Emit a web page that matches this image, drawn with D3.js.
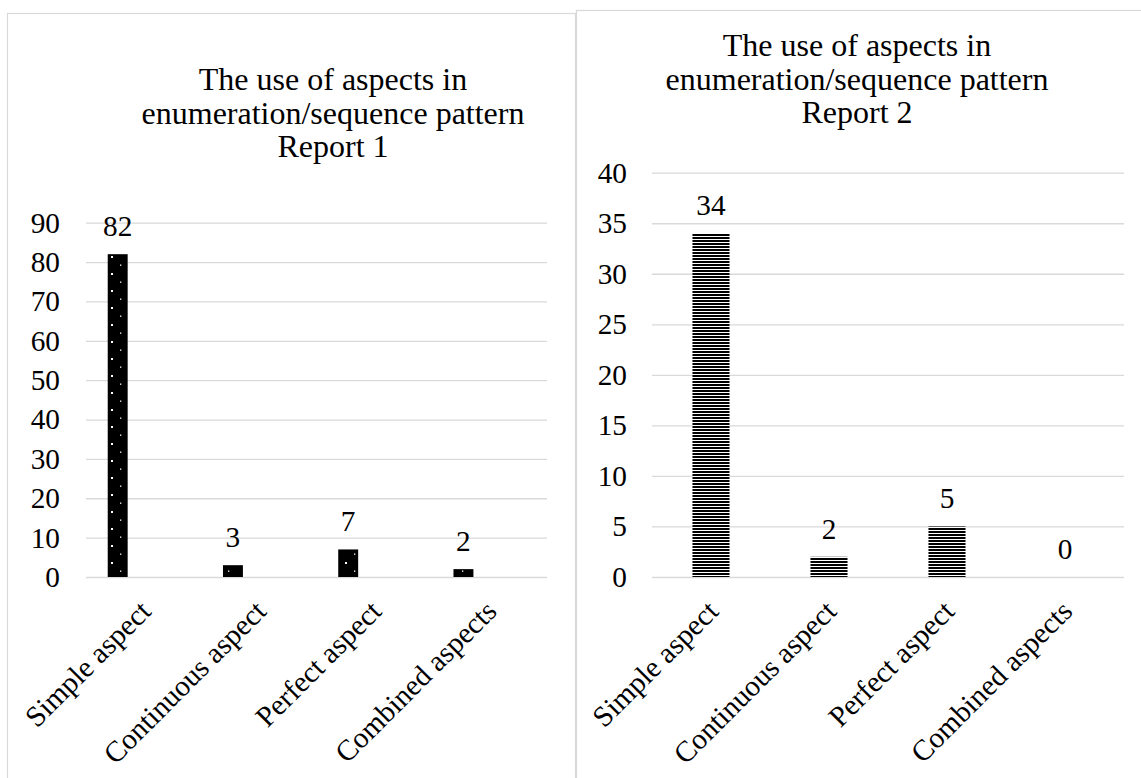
<!DOCTYPE html>
<html>
<head>
<meta charset="utf-8">
<script src="https://cdn.jsdelivr.net/npm/d3@7"></script>
<style>
  html, body { margin: 0; padding: 0; background: #fff; }
  svg { display: block; }
  text { font-family: "Liberation Serif", "Times New Roman", serif; fill: #000; }
</style>
</head>
<body>
<div id="chart"></div>
<script>
// ---- Data ----
const categories = ["Simple aspect", "Continuous aspect", "Perfect aspect", "Combined aspects"];
const report1Values = [82, 3, 7, 2];
const report2Values = [34, 2, 5, 0];
const report1Ticks = [0, 10, 20, 30, 40, 50, 60, 70, 80, 90];
const report2Ticks = [0, 5, 10, 15, 20, 25, 30, 35, 40];
const title1Lines = ["The use of aspects in", "enumeration/sequence pattern", "Report 1"];
const title2Lines = ["The use of aspects in", "enumeration/sequence pattern", "Report 2"];

const W = 1141, H = 778;
const svg = d3.select("#chart").append("svg").attr("width", W).attr("height", H);
const defs = svg.append("defs");

// dotted pattern (left)
const pd = defs.append("pattern").attr("id", "dots")
  .attr("patternUnits", "userSpaceOnUse").attr("width", 18).attr("height", 17);
pd.append("rect").attr("width", 18).attr("height", 17).attr("fill", "#000");
pd.append("rect").attr("x", 3).attr("y", 1).attr("width", 2).attr("height", 2).attr("fill", "#fff");
pd.append("rect").attr("x", 12).attr("y", 9.5).attr("width", 1.3).attr("height", 1.3).attr("fill", "#fff");

// horizontal stripes (right)
const ps = defs.append("pattern").attr("id", "stripes")
  .attr("patternUnits", "userSpaceOnUse").attr("width", 8).attr("height", 3);
ps.append("rect").attr("width", 8).attr("height", 3).attr("fill", "#fff");
ps.append("rect").attr("width", 8).attr("height", 2).attr("fill", "#000");

// panel borders
svg.append("rect").attr("x", 7.5).attr("y", 13.5).attr("width", 568).attr("height", 800)
  .attr("fill", "none").attr("stroke", "#d9d9d9").attr("stroke-width", 1.2);
svg.append("rect").attr("x", 576.5).attr("y", 10.5).attr("width", 600).attr("height", 800)
  .attr("fill", "none").attr("stroke", "#d9d9d9").attr("stroke-width", 1.2);

function drawChart(cfg) {
  const g = svg.append("g");
  const x = d3.scaleBand().domain(categories).range([cfg.x0, cfg.x1]).padding(0);
  const y = d3.scaleLinear().domain([0, cfg.yMax]).range([cfg.yBottom, cfg.yTop]);

  // title
  const t = g.append("text").attr("text-anchor", "middle").style("font-size", cfg.titleSize + "px");
  cfg.title.forEach((line, i) => {
    t.append("tspan").attr("x", cfg.titleX).attr("y", cfg.titleY + i * cfg.titleGap).text(line);
  });

  // y axis with gridlines
  const yAxis = d3.axisLeft(y).tickValues(cfg.ticks).tickSize(cfg.x1 - cfg.x0).tickPadding(cfg.tickPad)
    .tickFormat(d3.format("d"));
  const ya = g.append("g").attr("transform", `translate(${cfg.x1},0)`).call(yAxis);
  ya.select(".domain").remove();
  ya.selectAll(".tick line").attr("stroke", "#d9d9d9").attr("stroke-width", 1.3);
  ya.selectAll(".tick text").style("font-size", cfg.labelSize + "px")
    .style("font-family", '"Liberation Serif", serif').attr("fill", "#000");

  // bars
  const bw = x.bandwidth() * cfg.barFrac;
  const cx = d => x(d.c) + x.bandwidth() * cfg.barPos;
  const data = categories.map((c, i) => ({ c, v: cfg.values[i] }));
  g.selectAll("rect.bar").data(data).join("rect").attr("class", "bar")
    .attr("x", d => cx(d) - bw / 2).attr("width", bw)
    .attr("y", d => y(d.v)).attr("height", d => y(0) - y(d.v))
    .attr("fill", cfg.fill);

  // value labels
  g.selectAll("text.val").data(data).join("text").attr("class", "val")
    .attr("x", d => cx(d)).attr("y", d => y(d.v) - 18)
    .attr("text-anchor", "middle").style("font-size", cfg.labelSize + "px")
    .text(d => d.v);

  // x axis
  const xa = g.append("g").attr("transform", `translate(0,${cfg.yBottom})`)
    .call(d3.axisBottom(x).tickSize(0));
  xa.select(".domain").remove();
  xa.selectAll(".tick text")
    .attr("x", 0).attr("y", 0).attr("dy", 0)
    .attr("transform", `translate(${cfg.catDx},${cfg.catDy}) rotate(-45)`)
    .attr("text-anchor", "end")
    .style("font-size", cfg.labelSize + "px")
    .style("font-family", '"Liberation Serif", serif').attr("fill", "#000");
}

drawChart({
  x0: 86, x1: 547, yTop: 222.7, yBottom: 577, yMax: 90, ticks: report1Ticks,
  values: report1Values, title: title1Lines, titleX: 333, titleY: 90, titleGap: 33.5, titleSize: 32,
  labelSize: 29.3, tickPad: 26, barFrac: 0.173, barPos: 0.275, fill: "url(#dots)",
  catDx: 9, catDy: 36
});
drawChart({
  x0: 652, x1: 1124, yTop: 172.7, yBottom: 577, yMax: 40, ticks: report2Ticks,
  values: report2Values, title: title2Lines, titleX: 857, titleY: 56, titleGap: 33.5, titleSize: 32,
  labelSize: 29.3, tickPad: 25, barFrac: 0.314, barPos: 0.5, fill: "url(#stripes)",
  catDx: 9, catDy: 36
});
</script>
</body>
</html>
